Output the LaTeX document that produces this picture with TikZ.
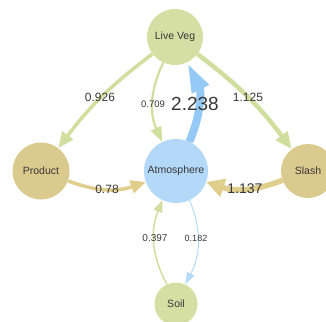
\documentclass[tikz,border=0pt]{standalone}
\usepackage{fontspec}
\setmainfont{Liberation Sans}
\usetikzlibrary{arrows.meta}
\definecolor{vegfill}{RGB}{213,223,163}
\definecolor{prodfill}{RGB}{219,202,142}
\definecolor{atmfill}{RGB}{180,216,248}
\definecolor{vegline}{RGB}{208,222,158}
\definecolor{prodline}{RGB}{224,206,140}
\definecolor{atmline}{RGB}{150,202,246}
\definecolor{labelc}{RGB}{55,55,55}
\begin{document}
\begin{tikzpicture}[x=1pt,y=1pt,
    pool/.style={circle, inner sep=0pt, text=labelc, font=\fontsize{10.5}{12}\selectfont},
    lbl/.style={inner sep=0pt, text=labelc}]
    \useasboundingbox (0,0) rectangle (326,-321);

    \node[pool, fill=vegfill, minimum size=56pt] (liveveg) at (175,-37) {Live Veg};
    \node[pool, fill=atmfill, minimum size=64pt] (atmos) at (176,-171) {Atmosphere};
    \node[pool, fill=prodfill, minimum size=57pt] (product) at (41,-171) {Product};
    \node[pool, fill=prodfill, minimum size=54pt] (slash) at (308,-171) {Slash};
    \node[pool, fill=vegfill, minimum size=43pt] (soil) at (176,-304) {Soil};

    \draw [vegline, line width=3.5pt, -{Triangle[length=16pt,width=13pt]}] (liveveg) to[bend right=8] (product);
    \draw [vegline, line width=2.2pt, -{Triangle[length=15pt,width=11pt]}] (liveveg) to[bend right=25] (atmos);
    \draw [vegline, line width=4.5pt, -{Triangle[length=17pt,width=14pt]}] (liveveg) to[bend left=8] (slash);
    \draw [atmline, line width=8pt, -{Triangle[length=30pt,width=17pt]}] (atmos) to[bend right=25] (liveveg);
    \draw [prodline, line width=3.5pt, -{Triangle[length=15pt,width=13pt]}] (product) to[bend right=20] (atmos);
    \draw [prodline, line width=5.5pt, -{Triangle[length=18pt,width=18pt]}] (slash) to[bend left=20] (atmos);
    \draw [vegline, line width=1.5pt, -{Triangle[length=12pt,width=9pt]}] (soil) to[bend left=25] (atmos);
    \draw [atmline!70, line width=1pt, -{Triangle[length=12pt,width=8pt]}] (atmos) to[bend left=25] (soil);

    \node[lbl, font=\fontsize{12}{14}\selectfont] (lv2prod) at (100,-97) {0.926};
    \node[lbl, font=\fontsize{9.5}{11}\selectfont] (lv2atm) at (153,-104) {0.709};
    \node[lbl, font=\fontsize{19}{22}\selectfont] (atm2lv) at (195,-104) {2.238};
    \node[lbl, font=\fontsize{12}{14}\selectfont] (lv2slash) at (248,-97) {1.125};
    \node[lbl, font=\fontsize{12}{14}\selectfont] (prod2atm) at (107,-189) {0.78};
    \node[lbl, font=\fontsize{14}{16}\selectfont] (slash2atm) at (245,-189) {1.137};
    \node[lbl, font=\fontsize{10}{12}\selectfont] (soil2atm) at (155,-238) {0.397};
    \node[lbl, font=\fontsize{9}{11}\selectfont] (atm2soil) at (196,-238) {0.182};
\end{tikzpicture}
\end{document}
